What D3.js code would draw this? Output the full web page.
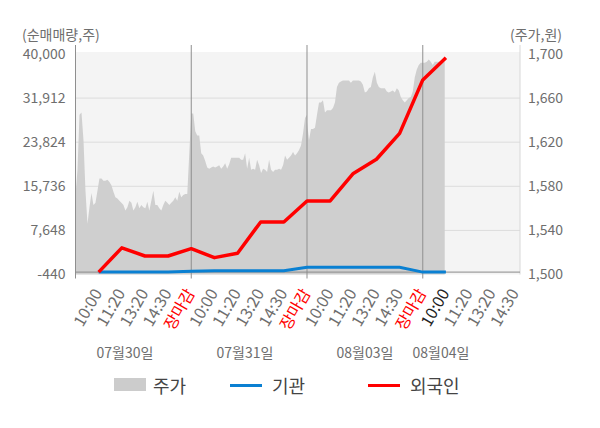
<!DOCTYPE html>
<html><head><meta charset="utf-8">
<script src="https://cdn.jsdelivr.net/npm/d3@7"></script>
<style>
body{margin:0;background:#fff}
svg{display:block}
text{font-family:"Noto Sans CJK KR","Noto Sans",sans-serif}
</style>
</head><body>
<svg id="chart" width="600" height="428"></svg>
<script>
// ---------- data ----------
const dayLabels = ["07월30일","07월31일","08월03일","08월04일"];
const timeLabels = ["10:00","11:20","13:20","14:30","장마감",
                    "10:00","11:20","13:20","14:30","장마감",
                    "10:00","11:20","13:20","14:30","장마감",
                    "10:00","11:20","13:20","14:30"];
const leftTicks = [40000,31912,23824,15736,7648,-440];
const rightTicks = [1700,1660,1620,1580,1540,1500];
const seriesNames = ["주가","기관","외국인"];

// 주가 (원), sampled through each trading day
const price0730 = [1572,1595,1645,1647,1622,1576,1546,1561,1574,1563,1565,1576,1587,1587,1585,1585,1586,1584,1581,1575,1570,1569,1567,1565,1563,1558,1561,1567,1565,1558,1561,1566,1560,1563,1561,1560,1566,1558,1567,1576,1563,1563,1560,1558,1563,1567,1565,1563,1565,1567,1570,1567,1575,1570,1572,1573,1573];
const price0731 = [1646,1646,1630,1626,1626,1610,1608,1603,1597,1596,1597,1598,1597,1598,1599,1596,1598,1601,1596,1600,1606,1606,1606,1606,1606,1604,1604,1610,1596,1606,1595,1596,1595,1604,1599,1592,1596,1595,1593,1604,1595,1593,1595,1595,1596,1595,1599,1608,1604,1606,1608,1611,1608,1610,1613,1617,1628,1642,1645];
const price0803 = [1638,1622,1632,1632,1633,1645,1656,1656,1658,1647,1649,1649,1649,1651,1656,1670,1674,1675,1676,1676,1676,1676,1674,1676,1676,1676,1676,1675,1672,1665,1666,1669,1670,1679,1684,1674,1670,1669,1669,1669,1666,1665,1666,1667,1665,1669,1667,1661,1658,1656,1658,1660,1661,1666,1679,1686,1690,1692];
const price0804 = [1692,1692,1693,1695,1693,1690,1693,1693,1693,1693,1693,1693];

// 누적 순매매량 (주) at each time label
const institution = [0,0,0,0,150,250,250,250,250,900,900,900,900,900,0,0];
const foreign = [0,4450,2950,2950,4300,2650,3450,9200,9200,13050,13050,18100,20700,25450,35250,39300];

// ---------- layout ----------
const svg = d3.select("#chart");
const L = 75.5, R = 520, T = 54, B = 274.5;
const SLOTS_PER_DAY = 5, PT_STEP = 5/58;
const x = d3.scaleLinear().domain([0,19.2]).range([L,R]);
const yL = d3.scaleLinear().domain([-440,40000]).range([B,T]);
const yR = d3.scaleLinear().domain([1500,1700]).range([B,T]);
const fmt = d => d.toLocaleString("en-US");

// background
svg.append("rect").attr("x",L).attr("y",52).attr("width",R-L).attr("height",B-52).attr("fill","#f4f4f4");

// gridlines
svg.append("g").selectAll("line").data(leftTicks.slice(1,-1)).join("line")
  .attr("x1",L).attr("x2",R).attr("y1",d=>yL(d)).attr("y2",d=>yL(d))
  .attr("stroke","#dcdcdc").attr("stroke-width",1);

// price area
const pricePts = [price0730,price0731,price0803,price0804]
  .flatMap((arr,d)=>arr.map((p,i)=>({s:d*SLOTS_PER_DAY+i*PT_STEP,p})));
svg.append("path").datum(pricePts)
  .attr("d", d3.area().x(d=>x(d.s)).y0(B).y1(d=>yR(d.p)))
  .attr("fill","#cfcfcf");

// vertical lines (axis + day separators)
svg.append("g").selectAll("line").data([0,5,10,15]).join("line")
  .attr("x1",d=>x(d)).attr("x2",d=>x(d)).attr("y1",45).attr("y2",278.5)
  .attr("stroke","#8f8f8f").attr("stroke-width",1);
svg.append("line").attr("x1",R).attr("x2",R).attr("y1",45).attr("y2",B)
  .attr("stroke","#d8d8d8");

// zero line
svg.append("line").attr("x1",L).attr("x2",R).attr("y1",yL(0)).attr("y2",yL(0))
  .attr("stroke","#8a8a8a").attr("stroke-width",1);

// left axis
const gl = svg.append("g").attr("transform",`translate(${L},0)`)
  .call(d3.axisLeft(yL).tickValues(leftTicks).tickFormat(fmt).tickSize(0).tickPadding(10));
gl.select(".domain").remove();
gl.selectAll("text").attr("fill","#6e6e6e").style("font-size","14px");

// right axis
const gr = svg.append("g").attr("transform",`translate(${R},0)`)
  .call(d3.axisRight(yR).tickValues(rightTicks).tickFormat(fmt).tickSize(0).tickPadding(8));
gr.select(".domain").remove();
gr.selectAll("text").attr("fill","#6e6e6e").style("font-size","14px");

// bottom axis
const gb = svg.append("g").attr("transform",`translate(0,${yL(0)})`)
  .call(d3.axisBottom(x).tickValues(d3.range(1,20)).tickFormat(i=>timeLabels[i-1]).tickSize(0));
gb.select(".domain").remove();
gb.selectAll("text")
  .attr("x",0).attr("y",0).attr("dy",0)
  .attr("text-anchor","end")
  .attr("transform","translate(3.5,21) rotate(-60)")
  .style("font-size","16px")
  .attr("fill",(d)=> timeLabels[d-1]==="장마감" ? "#ff0000" : (d===16 ? "#222" : "#6e6e6e"));

// day labels
const dayX = [125,245,365,441];
svg.append("g").selectAll("text").data(dayLabels).join("text")
  .attr("x",(d,i)=>dayX[i]).attr("y",358).attr("text-anchor","middle")
  .attr("fill","#6e6e6e").style("font-size","14px").text(d=>d);

// flow lines
const lineGen = d3.line().x((d,i)=>x(i+1)).y(d=>yL(d));
svg.append("path").datum(institution).attr("d",lineGen)
  .attr("fill","none").attr("stroke","#0a80d2").attr("stroke-width",3);
svg.append("path").datum(foreign).attr("d",lineGen)
  .attr("fill","none").attr("stroke","#ff0000").attr("stroke-width",3.5)
  .attr("stroke-linejoin","round");

// axis titles
svg.append("text").attr("x",22).attr("y",40).attr("fill","#6e6e6e").style("font-size","14px").text("(순매매량,주)");
svg.append("text").attr("x",562).attr("y",40).attr("text-anchor","end").attr("fill","#6e6e6e").style("font-size","14px").text("(주가,원)");

// legend
const lg = svg.append("g");
lg.append("rect").attr("x",114).attr("y",378).attr("width",32).attr("height",13).attr("fill","#cccccc");
lg.append("line").attr("x1",230).attr("x2",262).attr("y1",385.5).attr("y2",385.5).attr("stroke","#0a80d2").attr("stroke-width",3);
lg.append("line").attr("x1",368).attr("x2",400).attr("y1",385.5).attr("y2",385.5).attr("stroke","#ff0000").attr("stroke-width",3);
const legX = [153,272,410];
lg.selectAll("text").data(seriesNames).join("text")
  .attr("x",(d,i)=>legX[i]).attr("y",393).attr("fill","#444")
  .style("font-size","18px").text(d=>d);
</script>
</body></html>
